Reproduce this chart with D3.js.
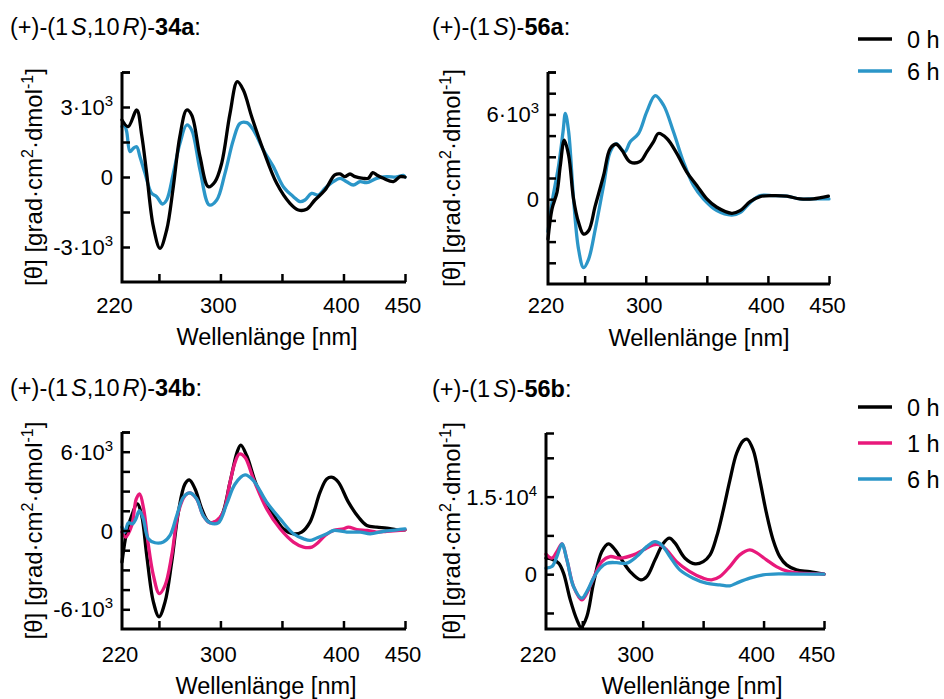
<!DOCTYPE html>
<html>
<head>
<meta charset="utf-8">
<script src="https://cdn.jsdelivr.net/npm/d3@7"></script>
<style>
  body { margin: 0; background: #fff; }
  text { font-family: "Liberation Sans", Arial, sans-serif; fill: #000; }
</style>
</head>
<body>
<svg id="chart" width="944" height="699"></svg>
<script>
// ---- CD spectra: wavelength [nm] vs molar ellipticity [grad·cm²·dmol⁻¹] ----

// (+)-(1S,10R)-34a
const cd34a_0h = [[220,2443],[225,2157],[232,2871],[236,1800],[240,171],[245.5,-2130],[250.9,-3057],[256.3,-2271],[261.7,-414],[267,1729],[272.6,2871],[276.6,2657],[283.4,871],[290.2,-414],[295.6,-200],[301,586],[307.8,2729],[313.7,4086],[318.6,3729],[325.4,2586],[334.8,1157],[345.7,-271],[356.5,-1129],[363.3,-1414],[370,-1386],[376.8,-986],[385,-557],[393,86],[397.2,129],[401,14],[405.3,129],[409.4,14],[416.1,-57],[420.2,-57],[423.8,186],[427,86],[432.5,-57],[440.6,-200],[446,14],[450,0]];
const cd34a_6h = [[220,2157],[221.6,2300],[223.8,1943],[226.5,1086],[229.2,1229],[231.9,1300],[234.6,871],[238.7,157],[244.1,-700],[248.2,-843],[252.8,-1157],[256.3,-986],[261.7,157],[267.1,1443],[272.6,2229],[276.6,2014],[283.4,300],[291,-1200],[297,-986],[303.7,157],[310.5,1586],[315.9,2300],[321.4,2329],[326.8,2014],[334.9,1157],[343,443],[351.1,-414],[359.3,-843],[364.7,-1057],[368.7,-986],[374.1,-700],[379.5,-771],[385,-486],[391.7,-200],[397.2,-57],[402.6,-200],[408,-343],[413.4,-200],[418.8,-243],[427,-57],[435.1,14],[443.2,0],[448.6,71],[450,0]];

// (+)-(1S)-56a
const cd56a_0h = [[220,-2827],[223.3,-690],[227.4,498],[230.1,2392],[233.3,4172],[236.9,3104],[240.9,21],[245,-1638],[249.1,-2471],[253.2,-2236],[258.7,-456],[265.5,1680],[270.9,3581],[275.8,3888],[280.5,3460],[287.3,2634],[295.5,2677],[300.9,3346],[306.3,4058],[310.4,4649],[317.3,4293],[325.5,3225],[333.6,1922],[341.8,968],[350,21],[358.2,-570],[370.4,-997],[377.2,-812],[385.4,-171],[393.6,185],[404.5,256],[415.4,214],[426.3,21],[437.2,21],[449.5,214]];
const cd56a_6h = [[220,-2300],[223.3,-214],[228.7,2392],[232.3,4770],[234.2,6073],[236.9,4770],[240.9,21],[245,-3539],[249.1,-4842],[253.2,-4250],[258.7,-2115],[265.5,968],[270.9,3346],[275.8,3937],[282.7,3346],[287.3,4058],[294.1,4649],[300.9,6194],[307.7,7334],[314.5,6664],[322.7,4770],[330.9,2634],[339.1,968],[347.2,21],[358.2,-812],[370.4,-1118],[377.2,-940],[385.4,-242],[393.6,256],[404.5,256],[415.4,214],[426.3,21],[437.2,21],[450,21]];

// (+)-(1S,10R)-34b
const cd34b_0h = [[220,-2400],[223.8,-121],[227.9,1139],[232.4,2027],[236,1139],[240.1,-1898],[245.5,-5434],[250.1,-6573],[255,-5434],[260.4,-2400],[265.8,1397],[271.2,3545],[274.7,3848],[279.4,3165],[284.8,1647],[290.2,683],[295.6,638],[301,1139],[307.8,3674],[313.5,5951],[316.5,6505],[321.4,5693],[329.5,3416],[340.3,1647],[351.1,129],[359.3,-250],[366,-121],[372.8,638],[381,2915],[386.4,3924],[391,4053],[395.9,3674],[404,2156],[412.2,1017],[419,380],[427.1,258],[435.2,182],[443.4,53],[450,53]];
const cd34b_1h = [[220,-121],[223,-501],[227.9,380],[231.6,2406],[234.3,2786],[237.6,1647],[241.1,-880],[245.5,-3416],[250.3,-4804],[255,-4175],[260.4,-1898],[265.8,1397],[271.2,2657],[275.2,2861],[280.6,2406],[286,1139],[291.5,584],[296.9,759],[302.3,1397],[307.8,3674],[311.9,5192],[315.4,5822],[320,5571],[326.8,3924],[337.6,1647],[348.5,129],[359.3,-880],[367.5,-1260],[374.3,-1260],[378.3,-1009],[385.1,-380],[391.9,0],[400,129],[404,258],[410.8,76],[419,0],[427,-121],[435.2,-60],[443.4,0],[450,53]];
const cd34b_6h = [[220,258],[222.4,-121],[225.1,584],[228.6,506],[231.3,886],[234.1,1518],[237.3,886],[241.4,-630],[246.8,-934],[253.6,-880],[259,-380],[264.5,1139],[269.9,2535],[275.3,2861],[280.7,2406],[286,1139],[291.5,584],[298.3,584],[305.1,2027],[311.9,3545],[320,4228],[326.8,3797],[337.6,2156],[348.5,886],[359.3,-250],[367.5,-630],[372.9,-759],[378.3,-577],[386.5,-250],[391.9,0],[402.7,-121],[413.6,-121],[421.7,-250],[432.5,-60],[443.4,53],[450,129]];

// (+)-(1S)-56b
const cd56b_0h = [[220,3093],[224.9,2900],[230.4,2126],[234.5,193],[240.1,-4968],[245.6,-8834],[249.1,-10300],[253.8,-8196],[259.3,-1740],[266.2,4369],[271.7,5857],[277.2,4697],[282.7,2764],[289.6,503],[298.4,-1102],[303.4,-464],[310.2,2764],[317.1,5992],[322.1,6959],[326.8,5992],[335,3093],[343.3,1991],[350.1,2436],[355.7,3731],[361.2,7268],[366.7,12429],[372.2,18228],[377.7,23389],[383.2,25825],[386.5,26095],[391.4,24027],[396.9,18228],[402.4,11791],[407.9,6630],[413.4,3402],[419,1798],[427.2,831],[438.2,503],[450,0]];
const cd56b_1h = [[220,3866],[224.9,3093],[229,4369],[233.2,5857],[237.3,2764],[242.8,-2397],[249.6,-4968],[253.8,-3673],[259.3,-773],[266.2,2436],[273,3402],[281.3,3093],[292.3,3731],[300.5,4697],[308.8,5664],[314.3,5664],[319.8,4697],[328,2436],[339,503],[350,-773],[356.9,-1102],[363.8,-464],[372.1,1469],[380.3,3731],[388.6,4697],[394.1,4175],[402.4,2764],[410.6,1469],[418.9,638],[429.9,193],[450,0]];
const cd56b_6h = [[220,1160],[224.9,1469],[229,3402],[233.2,5857],[237.3,2764],[242.8,-2397],[249.6,-4639],[253.8,-3363],[259.3,-773],[264.8,1160],[270.3,2126],[278.5,2242],[286.7,2126],[295,3402],[303.3,5335],[310.1,6302],[315.7,5664],[322.5,3402],[330.7,831],[341.7,-773],[352.7,-1740],[363.8,-2068],[372.1,-2262],[377.5,-1740],[388.6,-773],[399.6,-135],[413.4,58],[429.9,0],[450,0]];

// Axis ticks and labels
const wavelengthDomain = [220, 450];
const wavelengthTicks = [250, 300, 350, 400, 450];
const wavelengthLabels = [220, 300, 400, 450];
const yTicks34a = [-3000, -1500, 0, 1500, 3000, 4500];
const yTicks56a = [-4500, -3000, -1500, 0, 1500, 3000, 4500, 6000, 7500, 9000];
const yTicks34b = [-6000, -4500, -3000, -1500, 0, 1500, 3000, 4500, 6000, 7500];
const yTicks56b = [-7500, 0, 7500, 15000, 22500];
// tick labels: mantissa and power of ten
const yLabels34a = [{v: 3000, m: "3·10", p: "3"}, {v: 0, m: "0"}, {v: -3000, m: "-3·10", p: "3"}];
const yLabels56a = [{v: 6000, m: "6·10", p: "3"}, {v: 0, m: "0"}];
const yLabels34b = [{v: 6000, m: "6·10", p: "3"}, {v: 0, m: "0"}, {v: -6000, m: "-6·10", p: "3"}];
const yLabels56b = [{v: 15000, m: "1.5·10", p: "4"}, {v: 0, m: "0"}];

const colors = {"0 h": "#000000", "1 h": "#e8197b", "6 h": "#2b96c8"};

const panels = [
  { title: ["(+)-(1", {i: "S"}, ",10", {i: "R"}, ")-", {b: "34a"}, ":"],
    series: [{name: "6 h", data: cd34a_6h}, {name: "0 h", data: cd34a_0h}],
    yDomain: [-4500, 4500], yTicks: yTicks34a, yLabels: yLabels34a,
    box: {l: 122, r: 405, t: 72, b: 282}, titlePos: [10, 35], yLabelX: 42, xLabelX: 267, xLabelY: 345, tickLabelY: 313, firstShift: -7.5, shift: -2 },
  { title: ["(+)-(1", {i: "S"}, ")-", {b: "56a"}, ":"],
    series: [{name: "6 h", data: cd56a_6h}, {name: "0 h", data: cd56a_0h}],
    yDomain: [-6000, 9000], yTicks: yTicks56a, yLabels: yLabels56a,
    box: {l: 548, r: 829, t: 72, b: 284}, titlePos: [432, 35], yLabelX: 460, xLabelX: 699, xLabelY: 346, tickLabelY: 313, firstShift: -2, shift: -1.5 },
  { title: ["(+)-(1", {i: "S"}, ",10", {i: "R"}, ")-", {b: "34b"}, ":"],
    series: [{name: "0 h", data: cd34b_0h}, {name: "1 h", data: cd34b_1h}, {name: "6 h", data: cd34b_6h}],
    yDomain: [-7500, 7500], yTicks: yTicks34b, yLabels: yLabels34b,
    box: {l: 122, r: 405, t: 432, b: 629}, titlePos: [10, 396], yLabelX: 42, xLabelX: 266, xLabelY: 694, tickLabelY: 662, firstShift: -2, shift: -2 },
  { title: ["(+)-(1", {i: "S"}, ")-", {b: "56b"}, ":"],
    series: [{name: "0 h", data: cd56b_0h}, {name: "1 h", data: cd56b_1h}, {name: "6 h", data: cd56b_6h}],
    yDomain: [-10600, 27300], yTicks: yTicks56b, yLabels: yLabels56b,
    box: {l: 546, r: 824, t: 433, b: 629}, titlePos: [432, 397], yLabelX: 460, xLabelX: 692, xLabelY: 694, tickLabelY: 662, firstShift: -8, shift: -7 }
];

const legends = [
  {entries: ["0 h", "6 h"], x: 858, y0: 39, step: 32},
  {entries: ["0 h", "1 h", "6 h"], x: 858, y0: 407, step: 36}
];

const svg = d3.select("#chart");
const FS_TICK = 22;   // tick labels
const FS_TEXT = 23.5; // titles, axis titles, legend

panels.forEach(p => {
  const g = svg.append("g");
  const x = d3.scaleLinear().domain(wavelengthDomain).range([p.box.l, p.box.r]);
  const y = d3.scaleLinear().domain(p.yDomain).range([p.box.b, p.box.t]);

  // title
  const t = g.append("text").attr("x", p.titlePos[0]).attr("y", p.titlePos[1]).attr("font-size", FS_TEXT);
  p.title.forEach(part => {
    if (typeof part === "string") t.append("tspan").text(part);
    else if (part.i) t.append("tspan").attr("dx", 3).attr("font-style", "italic").text(part.i);
    else if (part.b) t.append("tspan").attr("font-weight", "bold").text(part.b);
  });

  // curves
  const line = d3.line().x(d => x(d[0])).y(d => y(d[1])).curve(d3.curveCatmullRom.alpha(0.5));
  p.series.forEach(s => {
    g.append("path").datum(s.data).attr("d", line)
      .attr("fill", "none").attr("stroke", colors[s.name])
      .attr("stroke-width", 3.3).attr("stroke-linejoin", "round").attr("stroke-linecap", "round");
  });

  // axes (ticks pointing inward)
  const yAxis = d3.axisRight(y).tickValues(p.yTicks.concat([p.yDomain[1]])).tickSize(8).tickFormat("");
  const ya = g.append("g").attr("transform", `translate(${p.box.l},0)`).call(yAxis);
  ya.select(".domain").remove();
  ya.selectAll(".tick line").attr("stroke", "#000").attr("stroke-width", 2.5);

  const xAxis = d3.axisTop(x).tickValues(wavelengthTicks).tickSize(8).tickFormat("");
  const xa = g.append("g").attr("transform", `translate(0,${p.box.b})`).call(xAxis);
  xa.select(".domain").remove();
  xa.selectAll(".tick line").attr("stroke", "#000").attr("stroke-width", 2.5);

  g.append("path")
    .attr("d", `M${p.box.l},${p.box.t}V${p.box.b}H${p.box.r + 1}`)
    .attr("fill", "none").attr("stroke", "#000").attr("stroke-width", 3).attr("stroke-linecap", "butt");

  // x tick labels
  g.selectAll(".xl").data(wavelengthLabels).enter().append("text")
    .attr("x", (d, i) => x(d) + (i === 0 ? p.firstShift : p.shift))
    .attr("y", p.tickLabelY).attr("text-anchor", "middle").attr("font-size", FS_TICK).text(d => d);

  // y tick labels
  p.yLabels.forEach(l => {
    const lt = g.append("text").attr("x", p.box.l - 9).attr("y", y(l.v) + 8)
      .attr("text-anchor", "end").attr("font-size", FS_TICK);
    lt.append("tspan").text(l.m);
    if (l.p) lt.append("tspan").attr("font-size", 15).attr("dy", -9).text(l.p);
  });

  // axis titles
  g.append("text").attr("x", p.xLabelX).attr("y", p.xLabelY).attr("text-anchor", "middle")
    .attr("font-size", FS_TEXT).text("Wellenlänge [nm]");
  const cy = (p.box.t + p.box.b) / 2;
  const yl = g.append("text").attr("transform", `translate(${p.yLabelX},${cy}) rotate(-90)`)
    .attr("text-anchor", "middle").attr("font-size", 24);
  yl.append("tspan").text("[θ] [grad·cm");
  yl.append("tspan").attr("font-size", 16).attr("dy", -9).text("2");
  yl.append("tspan").attr("dy", 9).text("·dmol");
  yl.append("tspan").attr("font-size", 16).attr("dy", -9).text("-1");
  yl.append("tspan").attr("dy", 9).text("]");
});

// legends
legends.forEach(lg => {
  lg.entries.forEach((name, i) => {
    const yy = lg.y0 + i * lg.step;
    svg.append("line").attr("x1", lg.x).attr("x2", lg.x + 34).attr("y1", yy).attr("y2", yy)
      .attr("stroke", colors[name]).attr("stroke-width", 3.3);
    svg.append("text").attr("x", lg.x + 49).attr("y", yy + 8.5).attr("font-size", FS_TEXT).text(name);
  });
});
</script>
</body>
</html>
